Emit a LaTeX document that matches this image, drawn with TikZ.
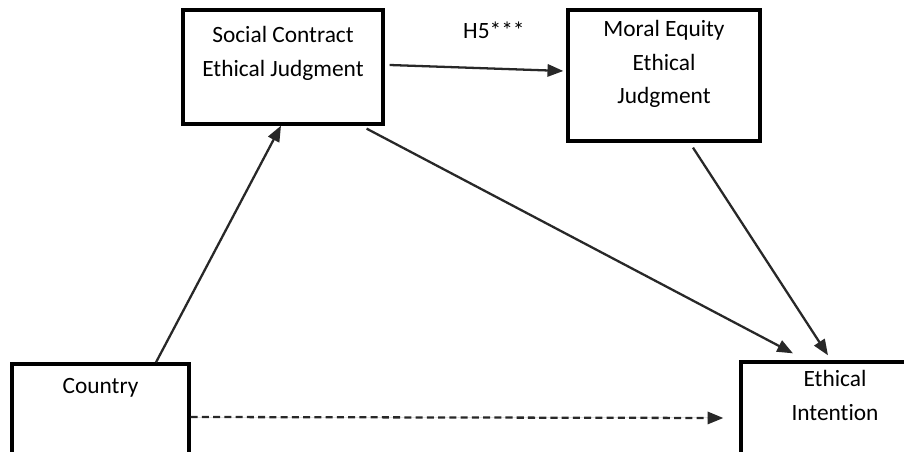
\documentclass[tikz,border=0pt]{standalone}
\usepackage{fontspec}
\setmainfont{Carlito}[Ligatures=NoCommon]
\usetikzlibrary{
    arrows.meta,
    positioning
}
\definecolor{arrowgray}{RGB}{40, 40, 40}

\begin{document}
\begin{tikzpicture}[
        x=0.02cm, y=-0.02cm,
        box/.style={draw, line width=1.9pt, fill=white, inner sep=0pt},
        txt/.style={align=center, inner sep=0pt, font=\fontsize{13.3}{19}\selectfont},
        arrow/.style={-{Triangle[length=9pt, width=7pt]}, line width=1.3pt, draw=arrowgray, fill=arrowgray}
    ]
        \useasboundingbox (0, 0) rectangle (904, 452);
        \clip (0, 0) rectangle (904, 452);

        % Boxes
        \node[box, minimum width=4cm, minimum height=2.28cm] (social) at (283, 67) {};
        \node[txt, below=0.36cm of social.north] (socialtxt) {Social Contract\\Ethical Judgment};

        \node[box, minimum width=3.84cm, minimum height=2.62cm] (moral) at (664, 75.5) {};
        \node[txt, below=0.24cm of moral.north] (moraltxt) {Moral Equity\\Ethical\\Judgment};

        \node[box, minimum width=3.54cm, minimum height=2.32cm] (country) at (100.5, 422) {};
        \node[txt, below=0.32cm of country.north] (countrytxt) {Country};

        \node[box, minimum width=3.76cm, minimum height=2.32cm] (intention) at (835, 420) {};
        \node[txt, below=0.2cm of intention.north] (intentiontxt) {Ethical\\Intention};

        % Arrows
        \draw[arrow] ([xshift=1.11cm]country.north) -- ([xshift=-0.04cm]social.south);
        \draw[arrow] ([xshift=0.1cm, yshift=0.04cm]social.east) --
            node[txt, pos=0.6, above=0.57cm] (h5) {H5***}
            ([xshift=-0.06cm, yshift=0.09cm]moral.west);
        \draw[arrow] ([xshift=-0.36cm, yshift=-0.06cm]social.south east) -- ([xshift=-0.84cm, yshift=0.14cm]intention.north);
        \draw[arrow] ([xshift=0.58cm, yshift=-0.1cm]moral.south) -- ([xshift=-0.14cm, yshift=0.1cm]intention.north);
        \draw[arrow, dash pattern=on 4pt off 2.4pt] ([yshift=0.1cm]country.east) -- ([xshift=-0.32cm, yshift=0.04cm]intention.west);
    \end{tikzpicture}
\end{document}
